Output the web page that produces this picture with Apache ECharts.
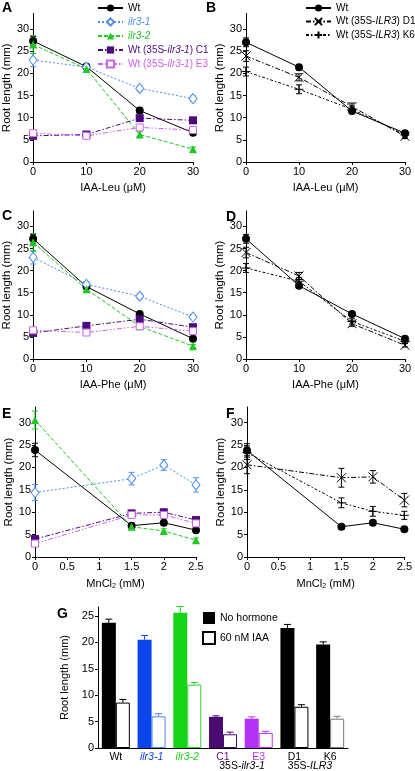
<!DOCTYPE html>
<html><head><meta charset="utf-8">
<script src="https://cdn.jsdelivr.net/npm/echarts@6/dist/echarts.min.js"></script>
<style>html,body{margin:0;padding:0;background:#fff}#c{width:415px;height:771px}</style>
</head><body><div id="c"></div>
<script>
const FONT = '"Liberation Sans", Arial, Helvetica, sans-serif';
// x values
const concIAA = [0, 10, 20, 30];
const concMn = [0, 1.5, 2, 2.5];
const yTicks = [0, 5, 10, 15, 20, 25, 30];
const gTicks = [0, 5, 10, 15, 20, 25];
// Panel A (IAA-Leu)
const aWt = [27.3, 21.5, 11.6, 6.6];
const aIlr31 = [23.0, 21.4, 16.6, 14.3];
const aIlr32 = [26.5, 21.0, 6.2, 2.9];
const aC1 = [5.9, 6.2, 9.9, 9.4];
const aE3 = [6.5, 5.9, 7.8, 7.2];
const aWtErr = [1.0, 0.6, 0.6, 0.5];
const aIlr31Err = [1.5, 0.5, 0.6, 0.6];
const aIlr32Err = [2.0, 0.6, 0.6, 0.5];
const aC1Err = [0.5, 0.5, 0.6, 0.5];
const aE3Err = [0.5, 0.4, 0.5, 0.5];
// Panel B (IAA-Leu)
const bWt = [27.0, 21.4, 11.5, 6.5];
const bD1 = [23.9, 19.1, 12.5, 5.8];
const bK6 = [20.4, 16.4, 11.9, 6.1];
const bWtErr = [1.0, 0.6, 0.6, 0.5];
const bD1Err = [1.2, 0.8, 0.8, 0.5];
const bK6Err = [1.0, 1.0, 0.7, 0.5];
// Panel C (IAA-Phe)
const cWt = [27.2, 16.4, 10.2, 4.6];
const cIlr31 = [23.0, 16.9, 14.2, 9.5];
const cIlr32 = [26.4, 15.8, 7.4, 2.9];
const cC1 = [5.9, 7.5, 9.0, 7.2];
const cE3 = [6.5, 6.0, 7.4, 6.3];
const cWtErr = [1.0, 0.6, 0.5, 0.4];
const cIlr31Err = [1.5, 0.6, 0.6, 0.5];
const cIlr32Err = [2.0, 0.6, 0.5, 0.4];
const cC1Err = [0.5, 0.5, 0.5, 0.4];
const cE3Err = [0.5, 0.4, 0.5, 0.4];
// Panel D (IAA-Phe)
const dWt = [27.2, 16.6, 10.2, 4.6];
const dD1 = [24.1, 18.8, 8.0, 3.1];
const dK6 = [20.6, 17.6, 8.5, 4.0];
const dWtErr = [1.0, 0.6, 0.5, 0.4];
const dD1Err = [1.2, 0.8, 0.6, 0.4];
const dK6Err = [1.0, 0.8, 0.6, 0.4];
// Panel E (MnCl2)
const eWt = [23.9, 7.0, 7.65, 6.0];
const eIlr31 = [14.4, 17.5, 20.55, 16.1];
const eIlr32 = [30.6, 6.75, 5.8, 3.75];
const eC1 = [4.0, 9.75, 10.0, 8.25];
const eE3 = [3.0, 9.4, 9.4, 7.5];
const eWtErr = [1.5, 0.5, 0.5, 0.5];
const eIlr31Err = [1.8, 1.4, 1.2, 1.6];
const eIlr32Err = [2.0, 0.6, 0.5, 0.5];
const eC1Err = [0.6, 0.6, 0.6, 0.5];
const eE3Err = [0.5, 0.5, 0.5, 0.5];
// Panel F (MnCl2)
const fWt = [23.8, 6.75, 7.65, 6.2];
const fD1 = [20.6, 17.7, 17.9, 12.7];
const fK6 = [23.3, 12.1, 10.2, 9.3];
const fWtErr = [1.5, 0.5, 0.5, 0.5];
const fD1Err = [2.0, 2.1, 1.4, 1.5];
const fK6Err = [1.5, 1.1, 1.1, 0.9];
// Panel G (bars)
const gCats = ['Wt', 'ilr3-1', 'ilr3-2', 'C1', 'E3', 'D1', 'K6'];
const gNoHormone = [23.7, 20.5, 25.6, 5.9, 5.55, 22.7, 19.6];
const gIAA = [8.6, 6.0, 12.0, 2.6, 2.85, 7.8, 5.55];
const gNoHormoneErr = [0.7, 0.8, 1.2, 0.2, 0.35, 0.7, 0.5];
const gIAAErr = [0.6, 0.5, 0.4, 0.4, 0.3, 0.4, 0.45];

const BL = '#4a8ef0', GR = '#22c822', PU = '#4b0c7c', MA = '#d060ee';
const gFill = ['#000', '#0a46ec', '#18d418', '#4a0a74', '#b531f5', '#000', '#000'];
const gBorder = ['#000', '#4a86f0', '#30d030', '#4a0a74', '#b531f5', '#000', '#777'];

const ST = {
  Wt: {symbol: 'circle', size: 8, color: '#000', fill: '#000', dash: 'solid', bw: 0},
  i1: {symbol: 'diamond', size: [8, 10], color: BL, fill: '#fff', dash: [2, 2], bw: 1},
  i2: {symbol: 'triangle', size: 8, color: GR, fill: GR, dash: [4, 2], bw: 0},
  C1: {symbol: 'rect', size: 8, color: PU, fill: PU, dash: [5, 2, 1.5, 2], bw: 0},
  E3: {symbol: 'rect', size: 7, color: MA, fill: '#fff', dash: [5, 2, 1.5, 2, 1.5, 2], bw: 1},
  D1: {symbol: 'path://M0,0L10,10M10,0L0,10', size: 9, color: '#000', fill: 'transparent', dash: [5, 2, 1.5, 2], bw: 1},
  K6: {symbol: 'path://M5,0L5,10M0,5L10,5', size: 9, color: '#000', fill: 'transparent', dash: [3, 2, 1.5, 2], bw: 1}
};
const NAMES = {Wt: 'Wt', i1: 'ilr3-1', i2: 'ilr3-2', C1: 'Wt (35S-ilr3-1) C1', E3: 'Wt (35S-ilr3-1) E3',
  D1: 'Wt (35S-ILR3) D1', K6: 'Wt (35S-ILR3) K6'};

const series = [];
function addLine(key, vals, errs, xs, gi) {
  const st = ST[key];
  series.push({
    type: 'line', name: NAMES[key], xAxisIndex: gi, yAxisIndex: gi,
    data: xs.map((x, i) => [x, vals[i]]),
    symbol: st.symbol, symbolSize: st.size, showAllSymbol: true,
    lineStyle: {color: st.color, width: 1, type: st.dash},
    itemStyle: {color: st.fill, borderColor: st.color, borderWidth: st.bw},
    z: 4, animation: false, silent: true
  });
  series.push({
    type: 'custom', xAxisIndex: gi, yAxisIndex: gi, z: 3, silent: true, animation: false,
    data: xs.map((x, i) => [x, vals[i], errs[i]]),
    renderItem: function (p, api) {
      const x = api.value(0), y = api.value(1), e = api.value(2);
      const t = api.coord([x, y + e]), b = api.coord([x, y - e]);
      const cx = t[0], w = 3;
      const s = {stroke: st.color, lineWidth: 1};
      return {type: 'group', children: [
        {type: 'line', shape: {x1: cx, y1: t[1], x2: cx, y2: b[1]}, style: s},
        {type: 'line', shape: {x1: cx - w, y1: t[1], x2: cx + w, y2: t[1]}, style: s},
        {type: 'line', shape: {x1: cx - w, y1: b[1], x2: cx + w, y2: b[1]}, style: s}
      ]};
    }
  });
}
// A
addLine('Wt', aWt, aWtErr, concIAA, 0);
addLine('i1', aIlr31, aIlr31Err, concIAA, 0);
addLine('i2', aIlr32, aIlr32Err, concIAA, 0);
addLine('C1', aC1, aC1Err, concIAA, 0);
addLine('E3', aE3, aE3Err, concIAA, 0);
// B
addLine('Wt', bWt, bWtErr, concIAA, 1);
addLine('D1', bD1, bD1Err, concIAA, 1);
addLine('K6', bK6, bK6Err, concIAA, 1);
// C
addLine('Wt', cWt, cWtErr, concIAA, 2);
addLine('i1', cIlr31, cIlr31Err, concIAA, 2);
addLine('i2', cIlr32, cIlr32Err, concIAA, 2);
addLine('C1', cC1, cC1Err, concIAA, 2);
addLine('E3', cE3, cE3Err, concIAA, 2);
// D
addLine('Wt', dWt, dWtErr, concIAA, 3);
addLine('D1', dD1, dD1Err, concIAA, 3);
addLine('K6', dK6, dK6Err, concIAA, 3);
// E
addLine('Wt', eWt, eWtErr, concMn, 4);
addLine('i1', eIlr31, eIlr31Err, concMn, 4);
addLine('i2', eIlr32, eIlr32Err, concMn, 4);
addLine('C1', eC1, eC1Err, concMn, 4);
addLine('E3', eE3, eE3Err, concMn, 4);
// F
addLine('Wt', fWt, fWtErr, concMn, 5);
addLine('D1', fD1, fD1Err, concMn, 5);
addLine('K6', fK6, fK6Err, concMn, 5);

// G bars
series.push({
  type: 'bar', name: 'No hormone', xAxisIndex: 6, yAxisIndex: 6, barWidth: 14, barGap: '0%',
  itemStyle: {color: '#000'}, animation: false, silent: true,
  data: gNoHormone.map((v, i) => ({value: v, itemStyle: {color: gFill[i]}}))
});
series.push({
  type: 'bar', name: '60 nM IAA', xAxisIndex: 6, yAxisIndex: 6, barWidth: 14, barGap: '0%',
  itemStyle: {color: '#fff', borderColor: '#000', borderWidth: 1}, animation: false, silent: true,
  data: gIAA.map((v, i) => ({value: v, itemStyle: {color: '#fff', borderColor: gBorder[i], borderWidth: 1}}))
});
function gErr(vals, errs, cols, off) {
  series.push({
    type: 'custom', xAxisIndex: 6, yAxisIndex: 6, z: 3, silent: true, animation: false,
    data: vals.map((v, i) => [i, v, errs[i]]),
    renderItem: function (p, api) {
      const i = api.value(0), y = api.value(1), e = api.value(2);
      const t = api.coord([i, y + e]), b = api.coord([i, y]);
      const cx = t[0] + off, w = 3.5;
      const s = {stroke: cols[p.dataIndex], lineWidth: 1};
      return {type: 'group', children: [
        {type: 'line', shape: {x1: cx, y1: t[1], x2: cx, y2: b[1]}, style: s},
        {type: 'line', shape: {x1: cx - w, y1: t[1], x2: cx + w, y2: t[1]}, style: s}
      ]};
    }
  });
}
gErr(gNoHormone, gNoHormoneErr, gFill, -7);
gErr(gIAA, gIAAErr, gBorder, 7);

const axLine = {lineStyle: {color: '#000', width: 1}};
const lab = {color: '#000', fontSize: 11, fontFamily: FONT};
function yAx(gi, max, ticks, gap) {
  return {type: 'value', gridIndex: gi, min: 0, max: max, interval: 5,
    name: 'Root length (mm)', nameLocation: 'middle', nameGap: gap, nameRotate: 90,
    nameTextStyle: {color: '#000', fontSize: 11.5, fontFamily: FONT},
    axisLine: {show: true, ...axLine}, splitLine: {show: false},
    axisTick: {show: true, length: 3, customValues: ticks, lineStyle: {color: '#000'}},
    axisLabel: {...lab, margin: 4, customValues: ticks}};
}
function xAx(gi, max, interval, name) {
  return {type: 'value', gridIndex: gi, min: 0, max: max, interval: interval,
    name: name, nameLocation: 'middle', nameGap: 20,
    nameTextStyle: {color: '#000', fontSize: 11, fontFamily: FONT, rich: {sub: {fontSize: 7, verticalAlign: 'bottom', padding: [6, 0, 0, 0]}}},
    axisLine: {show: true, onZero: false, ...axLine}, splitLine: {show: false},
    axisTick: {show: true, length: 3, lineStyle: {color: '#000'}},
    axisLabel: {...lab, margin: 4}};
}
const mn = 'MnCl{sub|2} (mM)';

const legRich = {
  k: {color: '#000', fontSize: 10, fontFamily: FONT},
  ki: {color: '#000', fontSize: 10, fontFamily: FONT, fontStyle: 'italic'},
  b: {color: BL, fontSize: 10, fontFamily: FONT, fontStyle: 'italic'},
  g: {color: GR, fontSize: 10, fontFamily: FONT, fontStyle: 'italic'},
  p: {color: PU, fontSize: 10, fontFamily: FONT},
  pi: {color: PU, fontSize: 10, fontFamily: FONT, fontStyle: 'italic'},
  m: {color: MA, fontSize: 10, fontFamily: FONT},
  mi: {color: MA, fontSize: 10, fontFamily: FONT, fontStyle: 'italic'}
};
function legFmt(name) {
  switch (name) {
    case 'Wt': return '{k|Wt}';
    case 'ilr3-1': return '{b|ilr3-1}';
    case 'ilr3-2': return '{g|ilr3-2}';
    case 'Wt (35S-ilr3-1) C1': return '{p|Wt (35S-}{pi|ilr3-1}{p|) C1}';
    case 'Wt (35S-ilr3-1) E3': return '{m|Wt (35S-}{mi|ilr3-1}{m|) E3}';
    case 'Wt (35S-ILR3) D1': return '{k|Wt (35S-}{ki|ILR3}{k|) D1}';
    case 'Wt (35S-ILR3) K6': return '{k|Wt (35S-}{ki|ILR3}{k|) K6}';
  }
  return name;
}
const catRich = {
  k: {color: '#000', fontSize: 10.5, fontFamily: FONT},
  b: {color: '#0a46ec', fontSize: 10.5, fontFamily: FONT, fontStyle: 'italic'},
  g: {color: '#18d418', fontSize: 10.5, fontFamily: FONT, fontStyle: 'italic'},
  p: {color: '#5a0a9a', fontSize: 10.5, fontFamily: FONT},
  pi: {color: '#5a0a9a', fontSize: 10.5, fontFamily: FONT, fontStyle: 'italic'},
  m: {color: '#b531f5', fontSize: 10.5, fontFamily: FONT},
  ki: {color: '#000', fontSize: 10.5, fontFamily: FONT, fontStyle: 'italic'}
};
const catKey = {'Wt': 'k', 'ilr3-1': 'b', 'ilr3-2': 'g', 'C1': 'p', 'E3': 'm', 'D1': 'k', 'K6': 'k'};

function letter(t, x, y) {
  return {type: 'text', left: x, top: y, silent: true,
    style: {text: t, fontSize: 14, fontWeight: 'bold', fontFamily: FONT, fill: '#000'}};
}

const option = {
  backgroundColor: '#fff',
  animation: false,
  textStyle: {fontFamily: FONT},
  grid: [
    {left: 33, top: 13.5, width: 160, height: 148.5},
    {left: 246, top: 13.5, width: 159, height: 148.5},
    {left: 33, top: 211, width: 160, height: 148},
    {left: 246, top: 211, width: 159, height: 148},
    {left: 35, top: 407, width: 161, height: 150},
    {left: 247, top: 407, width: 159, height: 150},
    {left: 98, top: 607, width: 250, height: 141}
  ],
  xAxis: [
    xAx(0, 30, 10, 'IAA-Leu (μM)'),
    xAx(1, 30, 10, 'IAA-Leu (μM)'),
    xAx(2, 30, 10, 'IAA-Phe (μM)'),
    xAx(3, 30, 10, 'IAA-Phe (μM)'),
    xAx(4, 2.5, 0.5, mn),
    xAx(5, 2.5, 0.5, mn),
    {type: 'category', gridIndex: 6, data: gCats,
      axisLine: {show: true, ...axLine}, axisTick: {show: false},
      axisLabel: {interval: 0, margin: 4, rich: catRich, formatter: v => '{' + catKey[v] + '|' + v + '}'}}
  ],
  yAxis: [
    yAx(0, 33.5, yTicks, 20),
    yAx(1, 33.5, yTicks, 20),
    yAx(2, 33.5, yTicks, 20),
    yAx(3, 33.5, yTicks, 20),
    yAx(4, 33.5, yTicks, 20),
    yAx(5, 33.5, yTicks, 20),
    Object.assign(yAx(6, 26.7, gTicks, 22), {nameTextStyle: {color: '#000', fontSize: 11, fontFamily: FONT}})
  ],
  legend: [
    {orient: 'vertical', left: 92, top: -2, itemWidth: 25, itemHeight: 9, itemGap: 4,
      data: ['Wt', 'ilr3-1', 'ilr3-2', 'Wt (35S-ilr3-1) C1', 'Wt (35S-ilr3-1) E3'],
      formatter: legFmt, textStyle: {rich: legRich, fontSize: 10}, selectedMode: false},
    {orient: 'vertical', left: 300, top: -2, itemWidth: 25, itemHeight: 9, itemGap: 3.5,
      data: ['Wt', 'Wt (35S-ILR3) D1', 'Wt (35S-ILR3) K6'],
      formatter: legFmt, textStyle: {rich: legRich, fontSize: 10}, selectedMode: false},
    {orient: 'vertical', left: 197, top: 607, itemWidth: 12, itemHeight: 12, itemGap: 7, icon: 'rect',
      data: ['No hormone', '60 nM IAA'], selectedMode: false,
      textStyle: {color: '#000', fontSize: 10.5, fontFamily: FONT}}
  ],
  graphic: [
    letter('A', 2, 1), letter('B', 206, 1), letter('C', 2, 209), letter('D', 226, 210),
    letter('E', 2, 407), letter('F', 226, 407), letter('G', 57, 607),
    {type: 'text', x: 242, y: 766, silent: true,
      style: {text: '{p|35S-}{pi|ilr3-1}', rich: catRich, align: 'center', verticalAlign: 'middle'}},
    {type: 'text', x: 310, y: 766, silent: true,
      style: {text: '{k|35S-}{ki|ILR3}', rich: catRich, align: 'center', verticalAlign: 'middle'}}
  ],
  series: series
};
const chart = echarts.init(document.getElementById('c'), null, {renderer: 'canvas'});
chart.setOption(option);
</script></body></html>
